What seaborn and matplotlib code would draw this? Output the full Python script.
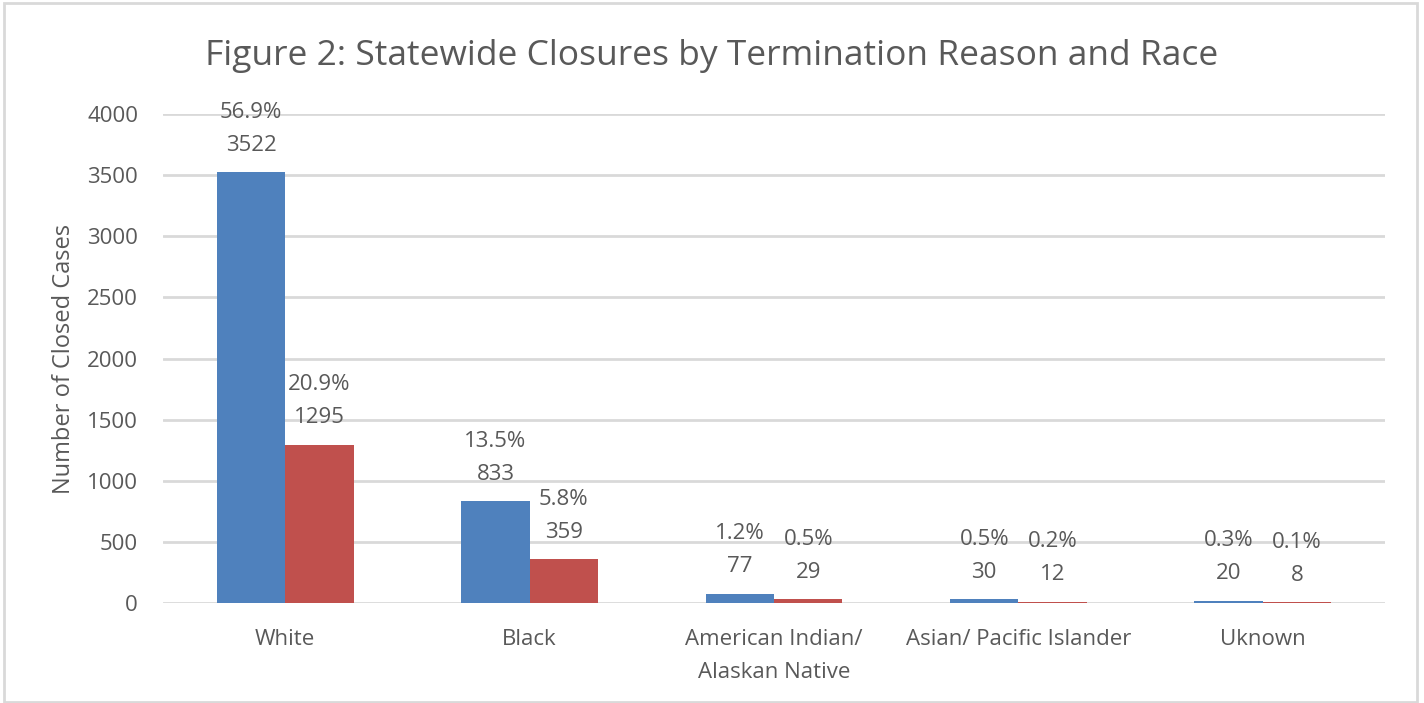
import pandas as pd
import matplotlib.pyplot as plt
import seaborn as sns
from matplotlib.patches import Rectangle

races = ['White', 'Black', 'American Indian/\nAlaskan Native',
         'Asian/ Pacific Islander', 'Uknown']
reasons = ['Termination reason 1', 'Termination reason 2']
counts_1 = [3522, 833, 77, 30, 20]
counts_2 = [1295, 359, 29, 12, 8]
pct_1 = ['56.9%', '13.5%', '1.2%', '0.5%', '0.3%']
pct_2 = ['20.9%', '5.8%', '0.5%', '0.2%', '0.1%']
yticks = [0, 500, 1000, 1500, 2000, 2500, 3000, 3500, 4000]

colors = ['#4F81BD', '#C0504D']
text_gray = '#595959'
grid_gray = '#D9D9D9'

df = pd.DataFrame({
    'Race': races * 2,
    'Reason': [reasons[0]] * 5 + [reasons[1]] * 5,
    'Count': counts_1 + counts_2,
})

sns.set_style('white')
plt.rcParams['font.family'] = ['Open Sans', 'DejaVu Sans']

fig = plt.figure(figsize=(14.24, 7.03), dpi=100)
ax = fig.add_axes([0.1145, 0.1422, 0.8581, 0.6956])

sns.barplot(data=df, x='Race', y='Count', hue='Reason', order=races,
            hue_order=reasons, palette=colors, width=0.56, gap=0,
            saturation=1, legend=False, linewidth=0, ax=ax, zorder=3)

ax.set_xlim(-0.5, 4.5)
ax.set_ylim(0, 4000)
ax.set_yticks(yticks)
ax.yaxis.grid(True, color=grid_gray, lw=2, zorder=0)
ax.set_axisbelow(True)
for s in ax.spines.values():
    s.set_visible(False)
ax.tick_params(axis='both', length=0, labelsize=16, labelcolor=text_gray)
ax.tick_params(axis='y', pad=18)
ax.tick_params(axis='x', pad=19)
for t in ax.get_xticklabels():
    t.set_linespacing(1.7)
ax.set_xlabel('')
ax.set_ylabel('Number of Closed Cases', fontsize=17, color=text_gray, labelpad=8)

for cont, cnts, pcts in zip(ax.containers, [counts_1, counts_2], [pct_1, pct_2]):
    for bar, c, p in zip(cont, cnts, pcts):
        xc = bar.get_x() + bar.get_width() / 2
        top = bar.get_height()
        ax.annotate(str(c), (xc, top), xytext=(0, 27), textcoords='offset pixels',
                    ha='center', va='center', fontsize=16, color=text_gray)
        ax.annotate(p, (xc, top), xytext=(0, 60), textcoords='offset pixels',
                    ha='center', va='center', fontsize=16, color=text_gray)

fig.text(0.5, 0.921, 'Figure 2: Statewide Closures by Termination Reason and Race',
         ha='center', va='center', fontsize=25.5, color=text_gray)

fig.patches.append(Rectangle((0.003, 0.002), 0.992, 0.994, transform=fig.transFigure,
                             fill=False, edgecolor=grid_gray, lw=2))

fig.savefig('out.png', dpi=100)
